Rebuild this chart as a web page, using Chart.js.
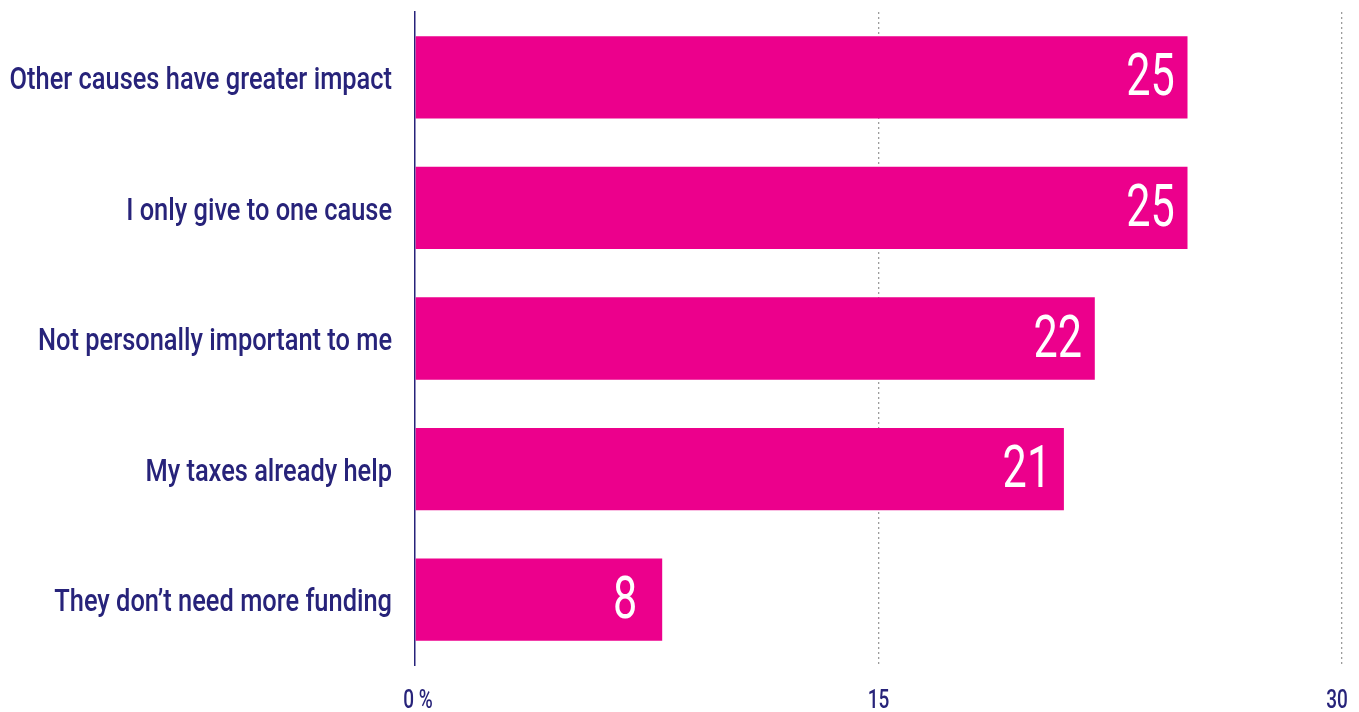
<!DOCTYPE html>
<html>
<head>
<meta charset="utf-8">
<script src="https://cdn.jsdelivr.net/npm/chart.js@4/dist/chart.umd.min.js"></script>
<style>
  html, body { margin: 0; padding: 0; background: #ffffff; }
  #wrap { width: 1359px; height: 712px; position: relative; }
</style>
</head>
<body>
<div id="wrap"><canvas id="chart"></canvas></div>
<script>
// Reasons for not giving, share of respondents (%)
const categories = [
  'Other causes have greater impact',
  'I only give to one cause',
  'Not personally important to me',
  'My taxes already help',
  'They don\u2019t need more funding'
];
const shares = [25, 25, 22, 21, 8];
const axisTicks = [0, 15, 30];
const axisTickLabels = ['0 %', '15', '30'];

const MAGENTA = '#EC008C';
const NAVY = '#27237A';
const FONT = 'Roboto, "Noto Sans", sans-serif';

// Draws text squeezed horizontally to get a condensed face
function condensedText(ctx, text, x, y, squeeze, align) {
  ctx.save();
  ctx.translate(x, y);
  ctx.scale(squeeze, 1);
  ctx.textAlign = align;
  ctx.fillText(text, 0, 0);
  ctx.restore();
}

// Category names, axis tick labels and in-bar values
const textLayer = {
  id: 'textLayer',
  afterDraw(chart) {
    const ctx = chart.ctx;
    const xs = chart.scales.x;
    const ys = chart.scales.y;
    const meta = chart.getDatasetMeta(0);

    ctx.save();
    ctx.textBaseline = 'middle';

    // category names
    ctx.fillStyle = NAVY;
    ctx.font = '500 31px ' + FONT;
    categories.forEach((name, i) => {
      condensedText(ctx, name, ys.right - 23, ys.getPixelForTick(i) + 4, 0.82, 'right');
    });

    // x-axis tick labels
    ctx.font = '500 25px ' + FONT;
    ctx.textBaseline = 'alphabetic';
    axisTicks.forEach((v, i) => {
      condensedText(ctx, axisTickLabels[i], xs.getPixelForValue(v) + (i === 2 ? -5 : (i === 0 ? 3 : 0)), 708, 0.76, 'center');
    });

    // values inside the bars
    ctx.fillStyle = '#ffffff';
    ctx.font = '400 60px ' + FONT;
    ctx.textBaseline = 'middle';
    meta.data.forEach((bar, i) => {
      condensedText(ctx, String(shares[i]), bar.x - 37, bar.y + 3, 0.72, 'center');
    });
    ctx.restore();
  }
};

new Chart(document.getElementById('chart'), {
  type: 'bar',
  data: {
    labels: categories,
    datasets: [{
      data: shares,
      backgroundColor: MAGENTA,
      borderWidth: 0,
      barPercentage: 0.63,
      categoryPercentage: 1
    }]
  },
  options: {
    indexAxis: 'y',
    responsive: true,
    maintainAspectRatio: false,
    animation: false,
    layout: { padding: { top: 12, right: 17, bottom: 0, left: 0 } },
    plugins: { legend: { display: false }, tooltip: { enabled: false } },
    scales: {
      x: {
        min: 0,
        max: 30,
        afterBuildTicks(scale) { scale.ticks = axisTicks.map(v => ({ value: v })); },
        afterFit(scale) {
          scale.height = 47;
          scale.paddingLeft = 0; scale.paddingRight = 0;
          scale.paddingTop = 0; scale.paddingBottom = 0;
        },
        border: { display: false, dash: [2, 3] },
        grid: {
          drawTicks: false,
          color: ctx => (ctx.tick && ctx.tick.value === 0) ? 'rgba(0,0,0,0)' : '#9c9c9c',
          lineWidth: 1.3
        },
        ticks: { display: false }
      },
      y: {
        afterFit(scale) {
          scale.width = 415;
          scale.paddingLeft = 0; scale.paddingRight = 0;
          scale.paddingTop = 0; scale.paddingBottom = 0;
        },
        border: { display: true, color: NAVY, width: 1.5 },
        grid: { display: false, drawTicks: false },
        ticks: { display: false }
      }
    }
  },
  plugins: [textLayer]
});
</script>
</body>
</html>
